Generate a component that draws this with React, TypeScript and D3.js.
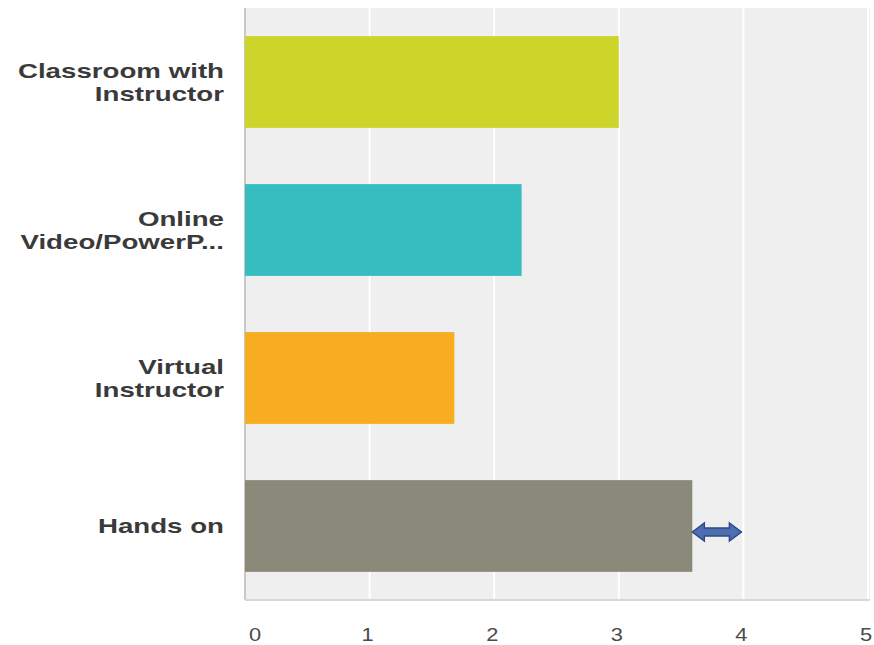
import React from "react";
import * as d3 from "d3";

const categories: string[][] = [
  ["Classroom with", "Instructor"],
  ["Online", "Video/PowerP..."],
  ["Virtual", "Instructor"],
  ["Hands on"],
];
const values: number[] = [3.0, 2.22, 1.68, 3.59];
const colors: string[] = ["#cdd42a", "#36bdc0", "#f8ac1f", "#8b8a7a"];
const ticks: number[] = [0, 1, 2, 3, 4, 5];

const W = 874;
const H = 645;
const left = 245;
const right = 868;
const top = 8;
const bottom = 600;

export default function App() {
  const x = d3.scaleLinear().domain([0, 5]).range([left, right]);
  const y = d3
    .scaleBand<number>()
    .domain(d3.range(categories.length))
    .range([top, bottom])
    .paddingInner(0.38)
    .paddingOuter(0.19);
  const bw = y.bandwidth();
  const arrowY = (y(3) as number) + bw / 2 + 6;
  const ax0 = x(values[3]);
  const ax1 = x(4) - 2;
  const hl = 12;
  const arrowPath = `M${ax0},${arrowY} L${ax0 + hl},${arrowY - 9} L${ax0 + hl},${arrowY - 4} L${ax1 - hl},${arrowY - 4} L${ax1 - hl},${arrowY - 9} L${ax1},${arrowY} L${ax1 - hl},${arrowY + 9} L${ax1 - hl},${arrowY + 4} L${ax0 + hl},${arrowY + 4} L${ax0 + hl},${arrowY + 9} Z`;
  return (
    <svg
      width={W}
      height={H}
      style={{ position: "absolute", left: 0, top: 0, background: "#fff" }}
      fontFamily="Arial, 'Liberation Sans', sans-serif"
    >
      <rect x={left} y={top} width={right - left + 2} height={bottom - top} fill="#efefef" />
      {ticks.slice(1).map((t) => (
        <line key={t} x1={x(t)} x2={x(t)} y1={top} y2={bottom} stroke="#ffffff" strokeWidth={2} />
      ))}
      <line x1={left} x2={left} y1={top} y2={bottom} stroke="#c8c8c8" strokeWidth={2} />
      <line x1={left} x2={right + 2} y1={bottom} y2={bottom} stroke="#d8d8d8" strokeWidth={2} />
      {values.map((v, i) => (
        <rect key={i} x={x(0)} y={y(i)} width={x(v) - x(0)} height={bw} fill={colors[i]} />
      ))}
      {categories.map((lines, i) => {
        const cy = (y(i) as number) + bw / 2;
        const lh = 23;
        const start = cy - ((lines.length - 1) * lh) / 2;
        return lines.map((l, j) => (
          <text
            key={`${i}-${j}`}
            transform={`translate(224,${start + j * lh}) scale(1.42,1)`}
            textAnchor="end"
            dy="0.36em"
            fontSize={19.5}
            fontWeight="bold"
            fill="#3a3a3a"
          >
            {l}
          </text>
        ));
      })}
      {ticks.map((t) => (
        <text
          key={t}
          transform={`translate(${t === 0 ? x(t) + 10 : x(t) - 2},641) scale(1.15,1)`}
          textAnchor="middle"
          fontSize={19}
          fill="#4a4a4a"
        >
          {t}
        </text>
      ))}
      <path d={arrowPath} fill="#4d6eb0" stroke="#2c4a88" strokeWidth={1.5} />
    </svg>
  );
}
